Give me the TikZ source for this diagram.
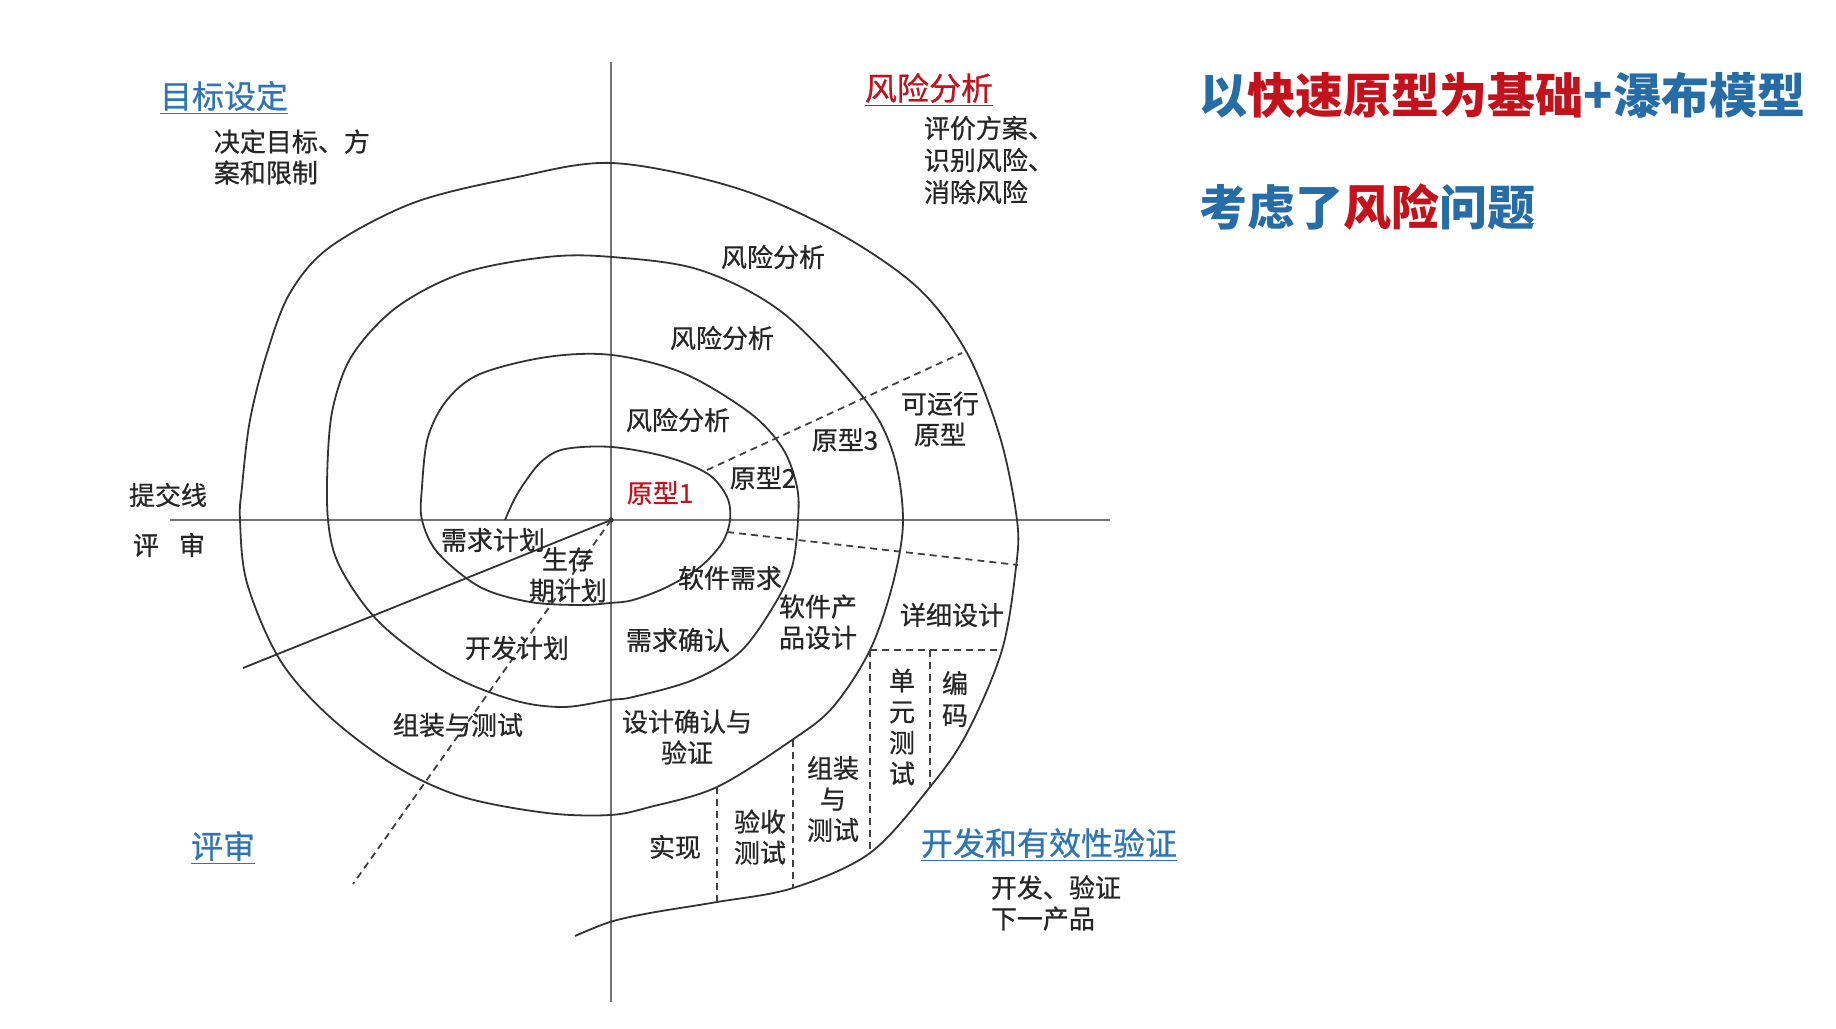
\documentclass[tikz,border=0pt]{standalone}
\usepackage{fontspec}
\setmainfont{Noto Sans CJK SC}
\newfontfamily\lblfont{Noto Sans CJK SC}[FakeBold=0.6]
\usepackage{tikz}
\usetikzlibrary{arrows}
\definecolor{hdblue}{RGB}{46,117,182}
\definecolor{ttblue}{RGB}{38,108,166}
\definecolor{ttred}{RGB}{196,18,28}

\begin{document}
\begin{tikzpicture}[x=0.5pt, y=-0.5pt, line join=bevel, line width=0.9pt,
  lbl/.style={text=black!85, font=\lblfont\fontsize{13}{15.5}\selectfont, align=center, inner sep=0pt},
  hdr/.style={font=\lblfont\fontsize{16}{19}\selectfont, inner sep=0pt},
  ttl/.style={font=\fontsize{24}{28}\selectfont\bfseries, inner sep=0pt, anchor=west},
  axis/.style={draw=black!55, line width=1.2pt},
  spiral/.style={draw=black!80, line width=0.9pt},
  cut/.style={draw=black!75, line width=0.9pt, dash pattern=on 3.5pt off 2.5pt}]
%%
\fill[white] (0,0) rectangle (1836,1028);
\useasboundingbox (0,0) rectangle (1836,1028);
%
\coordinate (O) at (611,520);
\coordinate (axT) at (611,62);
\coordinate (axB) at (611,1002);
\coordinate (axL) at (170,520);
\coordinate (axR) at (1110,520);
\draw [axis] (axT) -- (axB);
\draw [axis] (axL) -- (axR);
\fill [black!80] (O) circle (2.5);
%
\coordinate (sl) at (243,668);
\coordinate (dl) at (353,884);
\draw [spiral] (O) -- (sl);
\draw [cut] (O) -- (dl);
%
\draw [spiral] plot [smooth, tension=0.55] coordinates {
  (505,520) (514,500) (525,482) (542,461) (565,449) (612,447) (667,457) (708,474)
  (727,497) (730,520) (722,543) (700,567) (667,587) (633,600) (610,603) (580,605)
  (530,602) (480,587) (438,553) (422,520) (422,487) (428,437) (447,400) (480,374)
  (547,357) (612,355) (683,373) (750,413) (783,449) (797,487) (798,520) (792,567)
  (773,607) (740,652) (693,680) (633,697) (610,700) (563,707) (513,700) (447,673)
  (380,623) (340,567) (328,520) (328,453) (334,403) (353,354) (397,307) (463,273)
  (547,257) (612,257) (700,270) (783,313) (863,397) (893,453) (903,520) (893,583)
  (870,650) (833,707) (792,740) (717,787) (650,807) (610,815) (547,813) (463,797)
  (397,767) (330,717) (280,660) (247,583) (240,520) (242,487) (250,420) (267,353)
  (290,293) (330,247) (413,203) (513,178) (612,163) (733,187) (833,230) (917,287)
  (967,353) (1000,437) (1017,520) (1016,567) (1002,650) (967,733) (930,787) (870,853)
  (793,888) (717,902) (650,913) (610,922) (575,936)};
%
\coordinate (pa) at (707,470);
\coordinate (pb) at (962,353);
\coordinate (qa) at (727,532);
\coordinate (qb) at (1018,565);
\draw [cut] (pa) -- (pb);
\draw [cut] (qa) -- (qb);
\coordinate (d1) at (870,650);
\coordinate (d2) at (1002,650);
\coordinate (d3) at (930,650);
\draw [cut] (d1) -- (d2);
\draw [cut] (d1) -- (870,853);
\draw [cut] (d3) -- (930,787);
\draw [cut] (793,740) -- (793,888);
\draw [cut] (717,787) -- (717,902);
%
\node (hdGoal) at (224,98) [hdr, text=hdblue] {\underline{目标设定}};
\node (txGoal) at (213,157) [lbl, anchor=west, align=left] {决定目标、方\\案和限制};
\node (hdRisk) at (929,90) [hdr, text=ttred] {\underline{风险分析}};
\node (txRisk) at (923,160) [lbl, anchor=west, align=left, font=\lblfont\fontsize{13}{16}\selectfont] {评价方案、\\识别风险、\\消除风险};
\node (hdRev) at (223,848) [hdr, text=hdblue] {\underline{评审}};
\node (hdDev) at (1049,845) [hdr, text=hdblue] {\underline{开发和有效性验证}};
\node (txDev) at (990,903) [lbl, anchor=west, align=left] {开发、验证\\下一产品};
%
\node (tt1) at (1199,95) [ttl] {{\color{ttblue}以}{\color{ttred}快速原型为基础}{\color{ttblue}+瀑布模型}};
\node (tt2) at (1199,207) [ttl] {{\color{ttblue}考虑了}{\color{ttred}风险}{\color{ttblue}问题}};
%
\node (fx1) at (678,420) [lbl] {风险分析};
\node (fx2) at (722,338) [lbl] {风险分析};
\node (fx3) at (773,257) [lbl] {风险分析};
\node (yx1) at (660,493) [lbl, text=ttred] {原型1};
\node (yx2) at (763,478) [lbl] {原型2};
\node (yx3) at (845,440) [lbl] {原型3};
\node (yxR) at (940,419) [lbl] {可运行\\原型};
\node (tjx) at (168,495) [lbl] {提交线};
\node (ps) at (169,545) [lbl] {评\hspace{10pt}审};
%
\node (xqjh) at (493,540) [lbl] {需求计划};
\node (sczq) at (568,575) [lbl] {生存\\期计划};
\node (kfjh) at (517,648) [lbl] {开发计划};
\node (zzcs) at (458,725) [lbl] {组装与测试};
\node (rjxq) at (730,578) [lbl] {软件需求};
\node (xqqr) at (678,640) [lbl] {需求确认};
\node (rjcp) at (818,622) [lbl] {软件产\\品设计};
\node (xxsj) at (952,615) [lbl] {详细设计};
\node (sjqr) at (687,737) [lbl] {设计确认与\\验证};
\node (dycs) at (902,727) [lbl] {单\\元\\测\\试};
\node (bm) at (955,699) [lbl, font=\lblfont\fontsize{13}{16}\selectfont] {编\\码};
\node (zzyc) at (833,799) [lbl] {组装\\与\\测试};
\node (yscs) at (760,837) [lbl] {验收\\测试};
\node (sx) at (675,847) [lbl] {实现};
%
\end{tikzpicture}
\end{document}
